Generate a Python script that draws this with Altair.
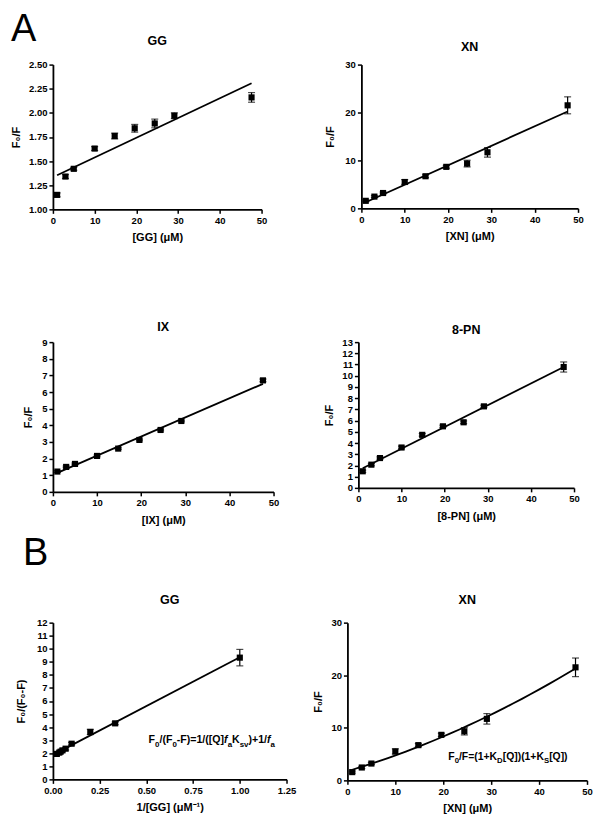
import altair as alt
import pandas as pd

FONT = "Liberation Sans"

# ---------------- data ----------------
conc = [1, 3, 5, 10, 14.8, 19.6, 24.4, 29.1, 47.6]

gg_f0f = [1.15, 1.34, 1.42, 1.63, 1.76, 1.84, 1.89, 1.97, 2.16]
gg_err = [0.02, 0.02, 0.015, 0.02, 0.03, 0.04, 0.045, 0.03, 0.05]

xn_f0f = [1.57, 2.45, 3.20, 5.50, 6.70, 8.66, 9.34, 11.70, 21.50]
xn_err = [0.2, 0.2, 0.2, 0.5, 0.3, 0.3, 0.7, 1.0, 1.77]

ix_f0f = [1.22, 1.50, 1.68, 2.16, 2.60, 3.12, 3.72, 4.26, 6.70]
ix_err = [0.05, 0.05, 0.05, 0.05, 0.05, 0.05, 0.05, 0.05, 0.08]

pn_f0f = [1.48, 2.07, 2.66, 3.60, 4.73, 5.49, 5.85, 7.27, 10.78]
pn_err = [0.1, 0.1, 0.1, 0.12, 0.12, 0.1, 0.12, 0.1, 0.45]

gg_inv_conc = [1.0, 0.333, 0.2, 0.1, 0.068, 0.051, 0.041, 0.034, 0.021]
gg_mod = [9.32, 4.29, 3.63, 2.73, 2.35, 2.22, 2.12, 2.05, 1.95]
gg_mod_err = [0.63, 0.1, 0.2, 0.1, 0.1, 0.1, 0.1, 0.1, 0.1]

# tick values
ticks_conc = [0, 10, 20, 30, 40, 50]
ticks_gg = [1.0, 1.25, 1.5, 1.75, 2.0, 2.25, 2.5]
ticks_xn = [0, 10, 20, 30]
ticks_ix = list(range(0, 10))
ticks_pn = list(range(0, 14))
ticks_inv = [0.0, 0.25, 0.5, 0.75, 1.0, 1.25]
ticks_mod = list(range(0, 13))

# Arial-Bold advance widths (per 1000 em) for laying out equation segments
AW = {"F": 611, "0": 556, "/": 278, "(": 333, ")": 333, "-": 333, "=": 584,
      "1": 556, "[": 333, "]": 333, "Q": 778, "K": 722, "+": 584, "a": 556,
      "f": 333, "s": 556, "v": 556, "D": 722, "S": 667}
SUB = 0.75


def panel(x, y, err, title, xtitle, ytitle, xdom, xvals, xfmt, ydom, yvals, yfmt,
          w, h, yext, title_off, method="linear", eq=None):
    df = pd.DataFrame({
        "x": x, "y": y,
        "lo": [a - b for a, b in zip(y, err)],
        "hi": [a + b for a, b in zip(y, err)],
    })
    xs = alt.Scale(domain=xdom, nice=False, zero=False)
    ys = alt.Scale(domain=ydom, nice=False, zero=False)
    xa = alt.Axis(values=xvals, format=xfmt, title=xtitle, labelFlush=False,
                  labelOverlap=False, titlePadding=7)
    ya = alt.Axis(values=yvals, format=yfmt, title=ytitle, minExtent=yext,
                  maxExtent=yext, labelOverlap=False, labelFlush=False,
                  titlePadding=4)

    def X(f):
        return alt.X(f, type="quantitative", scale=xs, axis=xa)

    def Y(f):
        return alt.Y(f, type="quantitative", scale=ys, axis=ya)

    base = alt.Chart(df)
    if method == "poly":
        reg = base.transform_regression("x", "y", method="poly", order=2)
    else:
        reg = base.transform_regression("x", "y")
    line = reg.mark_line(color="black", strokeWidth=1.8).encode(x=X("x"), y=Y("y"))
    rule = base.mark_rule(color="black", strokeWidth=1.2).encode(
        x=X("x"), y=Y("lo"), y2="hi:Q")
    cap_lo = base.mark_tick(color="black", orient="horizontal", size=7,
                            thickness=1.2).encode(x=X("x"), y=Y("lo"))
    cap_hi = base.mark_tick(color="black", orient="horizontal", size=7,
                            thickness=1.2).encode(x=X("x"), y=Y("hi"))
    pts = base.mark_square(color="black", size=38, opacity=1).encode(
        x=X("x"), y=Y("y"))
    layers = [line, rule, cap_lo, cap_hi, pts]
    if eq is not None:
        ex, ey, segs, fs = eq
        anchor = pd.DataFrame({"ex": [ex], "ey": [ey]})
        widths = []
        for t, k in segs:
            size = fs * SUB if k == "s" else fs
            widths.append(sum(AW.get(c, 556) for c in t) * size / 1000.0)
        pos = -sum(widths) / 2.0
        for (t, k), wd in zip(segs, widths):
            size = fs * SUB if k == "s" else fs
            layers.append(
                alt.Chart(anchor).mark_text(
                    text=t, align="left", baseline="alphabetic", font=FONT,
                    fontWeight="bold", fontSize=size, color="black",
                    fontStyle="italic" if k == "i" else "normal",
                    dx=pos, dy=(fs * 0.3 if k == "s" else 0),
                ).encode(x=X("ex"), y=Y("ey"))
            )
            pos += wd
    return alt.layer(*layers).properties(
        width=w, height=h,
        title=alt.TitleParams(title, offset=title_off, fontSize=12.5,
                              fontWeight="bold", font=FONT, color="black"),
    )


p_gg = panel(conc, gg_f0f, gg_err, "GG", "[GG] (\u03bcM)", "F\u2080/F",
             [0, 50], ticks_conc, "d", [1.0, 2.5], ticks_gg, ".2f",
             209, 145, 27, 12)
p_xn = panel(conc, xn_f0f, xn_err, "XN", "[XN] (\u03bcM)", "F\u2080/F",
             [0, 50], ticks_conc, "d", [0, 30], ticks_xn, "d",
             217, 144, 22, 6)
p_ix = panel(conc, ix_f0f, ix_err, "IX", "[IX] (\u03bcM)", "F\u2080/F",
             [0, 50], ticks_conc, "d", [0, 9], ticks_ix, "d",
             221, 150, 15, 4)
p_pn = panel(conc, pn_f0f, pn_err, "8-PN", "[8-PN] (\u03bcM)", "F\u2080/F",
             [0, 50], ticks_conc, "d", [0, 13], ticks_pn, "d",
             216, 146, 20, 1)

eq_gg = (0.85, 2.75, [("F", "n"), ("0", "s"), ("/(F", "n"), ("0", "s"),
                      ("-F)=1/([Q]", "n"), ("f", "i"), ("a", "s"), ("K", "n"),
                      ("sv", "s"), (")+1/", "n"), ("f", "i"), ("a", "s")], 10.6)
eq_xn = (33.5, 3.9, [("F", "n"), ("0", "s"), ("/F=(1+K", "n"), ("D", "s"),
                     ("[Q])(1+K", "n"), ("S", "s"), ("[Q])", "n")], 10.4)

p_ggb = panel(gg_inv_conc, gg_mod, gg_mod_err, "GG", "1/[GG] (\u03bcM\u207b\u00b9)",
              "F\u2080/(F\u2080-F)", [0, 1.25], ticks_inv, ".2f", [0, 12], ticks_mod, "d",
              234, 157, 22, 11, eq=eq_gg)
p_xnb = panel(conc, xn_f0f, xn_err, "XN", "[XN] (\u03bcM)", "F\u2080/F",
              [0, 50], ticks_conc, "d", [0, 30], ticks_xn, "d",
              240, 158, 20, 11, method="poly", eq=eq_xn)

big = dict(anchor="start", fontSize=38, fontWeight="normal", font=FONT,
           color="black")
row1 = alt.hconcat(p_gg, p_xn, spacing=57).properties(
    title=alt.TitleParams("A", offset=-14, **big))
row2 = alt.hconcat(p_ix, p_pn, spacing=44)
row3 = alt.hconcat(p_ggb, p_xnb, spacing=16).properties(
    title=alt.TitleParams("B", offset=21, dx=7, **big))

top = alt.vconcat(row1, row2, spacing=77)
chart = alt.vconcat(top, row3, spacing=9).properties(
    padding={"left": 3, "top": 2, "right": 0, "bottom": 0}
).configure_view(stroke=None).configure_axis(
    domainColor="black", domainWidth=1.8, tickColor="black", tickWidth=1.5,
    tickSize=4, labelFont=FONT, labelFontSize=9.5, labelFontWeight="bold",
    labelColor="black", labelPadding=2, titleFont=FONT, titleFontSize=11,
    titleFontWeight="bold", titleColor="black", grid=False,
)

chart.save("out.html", embed_options={"renderer": "svg", "actions": False})
